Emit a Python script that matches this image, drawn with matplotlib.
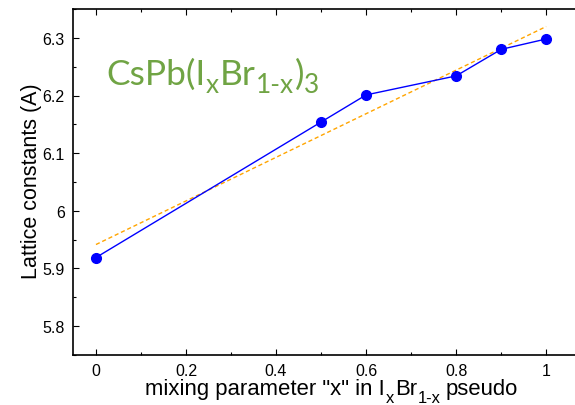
import numpy as np
import matplotlib
matplotlib.use("Agg")
import matplotlib.pyplot as plt
from matplotlib.ticker import MultipleLocator

# data
x_mix = [0.0, 0.5, 0.6, 0.8, 0.9, 1.0]
lattice = [5.919, 6.154, 6.201, 6.234, 6.280, 6.298]
x_ticks = [0, 0.2, 0.4, 0.6, 0.8, 1.0]
x_ticklabels = ["0", "0.2", "0.4", "0.6", "0.8", "1"]
y_ticks = [5.8, 5.9, 6.0, 6.1, 6.2, 6.3]
y_ticklabels = ["5.8", "5.9", "6", "6.1", "6.2", "6.3"]

plt.rcParams['font.family'] = ['Liberation Sans', 'DejaVu Sans']

W, H = 575, 406
fig = plt.figure(figsize=(W / 100, H / 100), dpi=100)
ax = fig.add_axes([73 / W, 50 / H, 502 / W, 346 / H])

# linear fit (dashed orange)
coef = np.polyfit(x_mix, lattice, 1)
xf = np.array([min(x_mix), max(x_mix)])
ax.plot(xf, np.polyval(coef, xf), color='#ffa500', lw=1.0, ls=(0, (3, 2)), zorder=2)

ax.plot(x_mix, lattice, color='#0000ff', lw=1.0, marker='o', markersize=7,
        markerfacecolor='#0000ff', markeredgecolor='#0000ff', zorder=3)

ax.set_xlim(-0.051, 1.064)
ax.set_ylim(5.75, 6.35)
ax.set_xticks(x_ticks)
ax.set_xticklabels(x_ticklabels)
ax.set_yticks(y_ticks)
ax.set_yticklabels(y_ticklabels)
ax.xaxis.set_minor_locator(MultipleLocator(0.1))
ax.yaxis.set_minor_locator(MultipleLocator(0.05))
ax.tick_params(axis='both', which='both', direction='in', top=True, right=False,
               labelsize=11.5, width=0.8)
ax.tick_params(axis='both', which='major', length=4)
ax.tick_params(axis='y', which='major', pad=6)
ax.tick_params(axis='x', which='major', pad=5.8)
ax.tick_params(axis='both', which='minor', length=2)
ax.spines['right'].set_visible(False)
for s in ['left', 'bottom', 'top']:
    ax.spines[s].set_linewidth(1.2)

ax.set_ylabel('Lattice constants (A)', fontsize=15.5)
ax.yaxis.set_label_coords(-0.062, 0.504)

renderer = fig.canvas.get_renderer()


def rich_text(x0, baseline, pieces, size, color, family):
    """Draw text pieces in sequence; pieces = (text, size factor, drop px, gap px)."""
    x = x0
    for s, f, dy, gap in pieces:
        x += gap
        t = fig.text(x / W, 1 - (baseline + dy) / H, s, fontsize=size * f,
                     family=family, color=color, ha='left', va='baseline')
        x += t.get_window_extent(renderer).width
    return x


# x-axis label
rich_text(145, 395.5, [
    ('mixing parameter "x" in I', 1.0, 0, 0),
    ('x', 0.75, 8, 1),
    ('Br', 1.0, 0, 1),
    ('1-x', 0.75, 8, 1),
    ('pseudo', 1.0, 0, 5),
], 15.9, 'black', ['Liberation Sans'])

# green formula
rich_text(106, 85, [
    ('CsPb(I', 1.0, 0, 0),
    ('x', 0.74, 8, 0.5),
    ('Br', 1.0, 0, 0.5),
    ('1-x', 0.74, 8, 0.5),
    (')', 1.0, 0, 0.5),
    ('3', 0.74, 8, 0),
], 25.5, '#70a444', ['Lato'])

fig.savefig('out.png', dpi=100)
